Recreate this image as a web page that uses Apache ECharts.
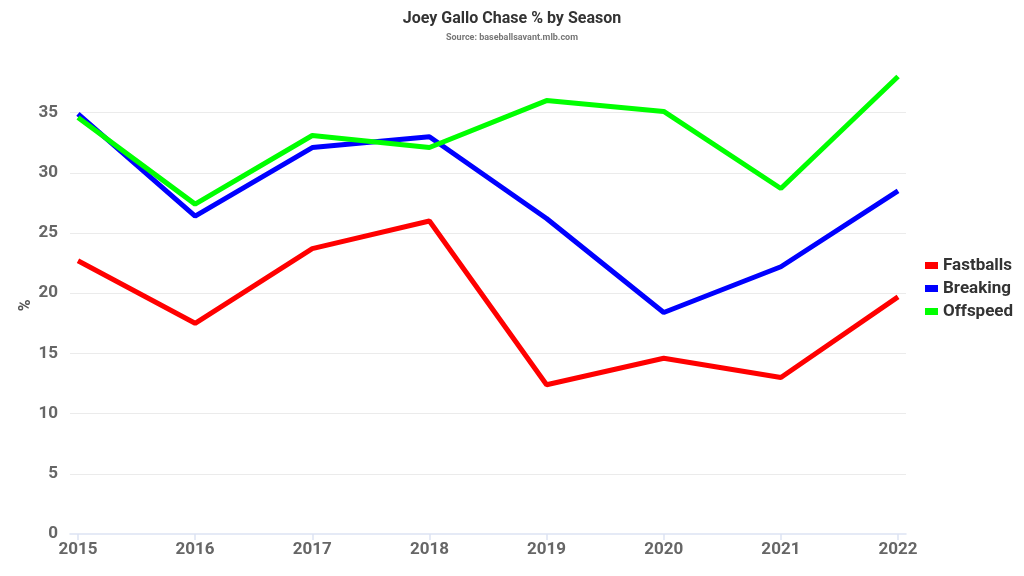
<!DOCTYPE html>
<html><head><meta charset="utf-8">
<script src="https://cdn.jsdelivr.net/npm/echarts@6/dist/echarts.min.js"></script>
<style>html,body{margin:0;padding:0;background:#fff}#c{width:1024px;height:576px}</style>
</head><body><div id="c"></div>
<script>
const years = [2015, 2016, 2017, 2018, 2019, 2020, 2021, 2022];
const fastballs = [22.7, 17.5, 23.7, 26.0, 12.4, 14.6, 13.0, 19.7];
const breaking = [34.9, 26.4, 32.1, 33.0, 26.2, 18.4, 22.2, 28.5];
const offspeed = [34.6, 27.4, 33.1, 32.1, 36.0, 35.1, 28.7, 38.0];
const yTicks = [0, 5, 10, 15, 20, 25, 30, 35];

const font = 'Roboto';
const pair = arr => years.map((y, i) => [y, arr[i]]);
const chart = echarts.init(document.getElementById('c'));
chart.setOption({
  animation: false,
  title: {
    text: 'Joey Gallo Chase % by Season',
    subtext: 'Source: baseballsavant.mlb.com',
    left: 'center', top: 6, itemGap: 6,
    textStyle: {fontFamily: font, fontWeight: 'bold', fontSize: 16, color: '#333'},
    subtextStyle: {fontFamily: font, fontWeight: 'bold', fontSize: 9, color: '#777'}
  },
  legend: {
    orient: 'vertical', left: 920, top: 252, itemWidth: 13, itemHeight: 7, itemGap: 6,
    icon: 'rect',
    textStyle: {fontFamily: font, fontWeight: 'bold', fontSize: 17, color: '#333'}
  },
  grid: {left: 70, right: 118, top: 76.5, bottom: 42},
  xAxis: {
    type: 'value', min: 2014.932, max: 2022.068,
    axisLine: {lineStyle: {color: '#dde3f3', width: 1.5}},
    axisTick: {show: true, customValues: years, length: 6, lineStyle: {color: '#dde3f3', width: 1.5}},
    axisLabel: {customValues: years, fontFamily: font, fontWeight: 'bold', fontSize: 17, color: '#666', margin: 7,
      formatter: v => String(Math.round(v))},
    splitLine: {show: false}
  },
  yAxis: {
    type: 'value', min: 0, max: 38,
    name: '%', nameLocation: 'middle', nameGap: 36, nameRotate: 90, nameMoveOverlap: false,
    nameTextStyle: {fontFamily: font, fontWeight: 'bold', fontSize: 16, color: '#555'},
    axisLine: {show: false},
    axisTick: {show: true, inside: true, customValues: yTicks.slice(1), length: 836,
      lineStyle: {color: '#ebebeb', width: 1}},
    axisLabel: {customValues: yTicks, fontFamily: font, fontWeight: 'bold', fontSize: 17, color: '#666', margin: 12},
    splitLine: {show: false}
  },
  series: [
    {name: 'Fastballs', type: 'line', data: pair(fastballs), showSymbol: false, symbol: 'none',
      lineStyle: {color: '#ff0000', width: 5}, itemStyle: {color: '#ff0000'}},
    {name: 'Breaking', type: 'line', data: pair(breaking), showSymbol: false, symbol: 'none',
      lineStyle: {color: '#0000ff', width: 5}, itemStyle: {color: '#0000ff'}},
    {name: 'Offspeed', type: 'line', data: pair(offspeed), showSymbol: false, symbol: 'none',
      lineStyle: {color: '#00ff00', width: 5}, itemStyle: {color: '#00ff00'}}
  ]
});
</script></body></html>
